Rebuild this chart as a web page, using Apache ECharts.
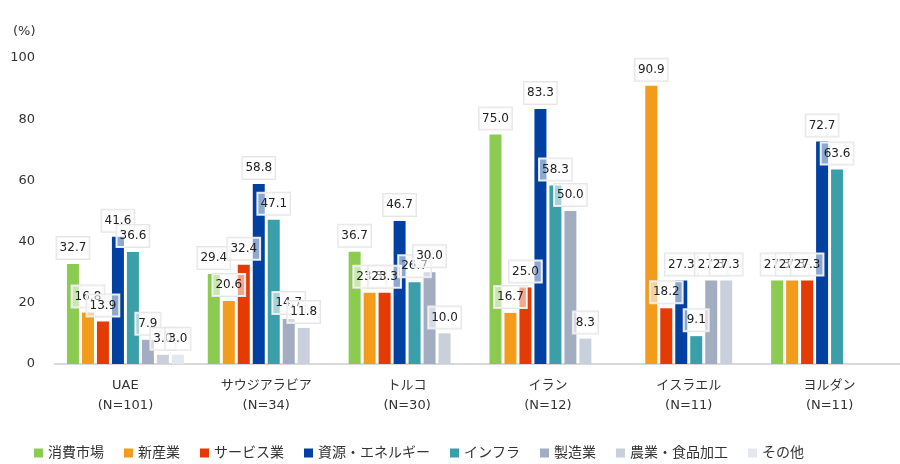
<!DOCTYPE html>
<html>
<head>
<meta charset="utf-8">
<script src="https://cdn.jsdelivr.net/npm/echarts@6/dist/echarts.min.js"></script>
<style>html,body{margin:0;padding:0;background:#fff;}#c{width:900px;height:464px;}</style>
</head>
<body>
<div id="c"></div>
<script>
const categories = ['UAE\n(N=101)', 'サウジアラビア\n(N=34)', 'トルコ\n(N=30)', 'イラン\n(N=12)', 'イスラエル\n(N=11)', 'ヨルダン\n(N=11)'];
const seriesNames = ['消費市場', '新産業', 'サービス業', '資源・エネルギー', 'インフラ', '製造業', '農業・食品加工', 'その他'];
const consumer   = [32.7, 29.4, 36.7, 75.0, null, 27.3];
const newIndustry= [16.8, 20.6, 23.3, 16.7, 90.9, 27.3];
const service    = [13.9, 32.4, 23.3, 25.0, 18.2, 27.3];
const energy     = [41.6, 58.8, 46.7, 83.3, 27.3, 72.7];
const infra      = [36.6, 47.1, 26.7, 58.3, 9.1, 63.6];
const manufact   = [7.9, 14.7, 30.0, 50.0, 27.3, null];
const agri       = [3.0, 11.8, 10.0, 8.3, 27.3, null];
const other      = [3.0, null, null, null, null, null];
const yTicks = [0, 20, 40, 60, 80, 100];
const colors = ['#8CCB52', '#F39B1A', '#E43A04', '#0040A0', '#3A9FA8', '#A2ADC1', '#C9D0DC', '#E3E7EF'];
const values = [consumer, newIndustry, service, energy, infra, manufact, agri, other];

const FONT = "'DejaVu Sans', 'Noto Sans CJK JP', sans-serif";
const chart = echarts.init(document.getElementById('c'));
chart.setOption({
  animation: false,
  textStyle: { fontFamily: FONT },
  title: { text: '(%)', left: 8, top: 20, textStyle: { fontSize: 13, fontWeight: 'normal', color: '#333', fontFamily: FONT } },
  legend: {
    data: seriesNames,
    left: 29, top: 441,
    icon: 'rect', itemWidth: 9, itemHeight: 9, itemGap: 20,
    textStyle: { fontSize: 14, color: '#333', fontFamily: FONT }
  },
  grid: { left: 55, right: 0, top: 58, bottom: 100, containLabel: false },
  xAxis: {
    type: 'category', data: categories,
    axisLine: { lineStyle: { color: '#D9D9D9', width: 2 } },
    axisTick: { show: false },
    axisLabel: { fontSize: 13, color: '#333', lineHeight: 20, margin: 12, interval: 0, fontFamily: FONT }
  },
  yAxis: {
    type: 'value', min: yTicks[0], max: yTicks[yTicks.length - 1], interval: 20,
    axisLine: { show: false }, axisTick: { show: false }, splitLine: { show: false },
    axisLabel: { fontSize: 13, color: '#333', margin: 20, fontFamily: FONT }
  },
  series: seriesNames.map((name, i) => ({
    name, type: 'bar', data: values[i],
    barGap: '25%', barCategoryGap: '17%',
    itemStyle: { color: colors[i] },
    labelLayout: { moveOverlap: 'shiftY' },
    label: {
      show: true, position: 'top', distance: 5,
      formatter: p => (p.value == null ? '' : Number(p.value).toFixed(1)),
      fontSize: 12, color: '#222', fontFamily: FONT,
      backgroundColor: 'rgba(255,255,255,0.55)', borderColor: '#E6E6E6', borderWidth: 1,
      padding: [5, 3]
    }
  }))
});
</script>
</body>
</html>
